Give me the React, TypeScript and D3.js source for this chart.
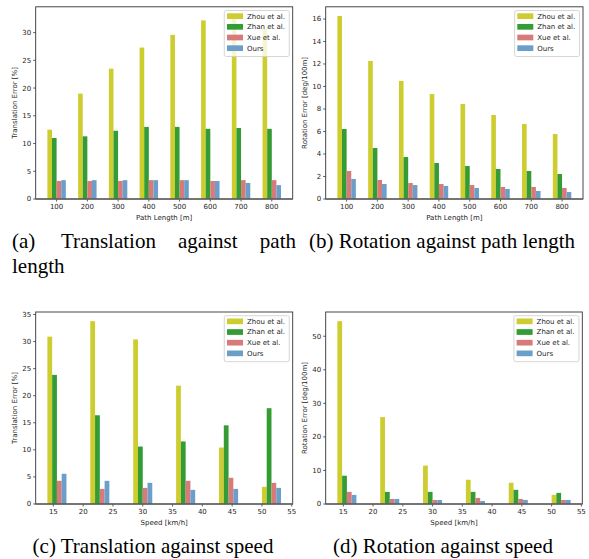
import * as d3 from 'd3'

const methods = ['Zhou et al.', 'Zhan et al.', 'Xue et al.', 'Ours']
const colors = ['#cdcd30', '#349c34', '#d87a7a', '#6b9fca']

const pathLengths = [100, 200, 300, 400, 500, 600, 700, 800]
// bar group centres on the speed axis
const speedBins = [15.6, 22.8, 30.0, 37.2, 44.4, 51.6]
const speedTicks = [15, 20, 25, 30, 35, 40, 45, 50, 55]

const transPathZhou = [12.5, 19.0, 23.5, 27.3, 29.6, 32.2, 33.0, 30.7]
const transPathZhan = [11.0, 11.3, 12.3, 13.0, 13.0, 12.65, 12.8, 12.65]
const transPathXue = [3.25, 3.25, 3.25, 3.4, 3.4, 3.25, 3.4, 3.4]
const transPathOurs = [3.4, 3.4, 3.4, 3.4, 3.4, 3.25, 2.9, 2.5]

const rotPathZhou = [16.27, 12.27, 10.49, 9.33, 8.44, 7.47, 6.67, 5.78]
const rotPathZhan = [6.22, 4.53, 3.73, 3.2, 2.93, 2.67, 2.49, 2.22]
const rotPathXue = [2.49, 1.69, 1.42, 1.33, 1.24, 1.07, 1.07, 0.98]
const rotPathOurs = [1.78, 1.33, 1.24, 1.16, 0.98, 0.89, 0.71, 0.62]

const transSpeedZhou = [30.9, 33.77, 30.4, 21.85, 10.43, 3.17]
const transSpeedZhan = [23.84, 16.39, 10.61, 11.55, 14.53, 17.69]
const transSpeedXue = [4.28, 2.79, 2.98, 4.28, 4.84, 3.91]
const transSpeedOurs = [5.59, 4.28, 3.91, 2.61, 2.79, 2.98]

const rotSpeedZhou = [54.5, 25.9, 11.45, 7.23, 6.33, 2.71]
const rotSpeedZhan = [8.43, 3.61, 3.61, 3.61, 4.22, 3.31]
const rotSpeedXue = [3.61, 1.51, 1.2, 1.81, 1.51, 1.2]
const rotSpeedOurs = [2.71, 1.51, 1.2, 0.9, 1.2, 1.2]

const FONT = '"DejaVu Sans", sans-serif'
const FS = 7

type Box = { l: number; r: number; t: number; b: number }

function Panel({ box, xDomain, positions, barW, xTicks, yTicks, series, xLabel, yLabel, yLabelX }: {
  box: Box; xDomain: [number, number]; positions: number[]; barW: number; xTicks: number[]
  yTicks: number[]; series: number[][]; xLabel: string; yLabel: string; yLabelX: number
}) {
  const x = d3.scaleLinear().domain(xDomain).range([box.l, box.r])
  const maxV = d3.max(series.flat()) || 1
  const y = d3.scaleLinear().domain([0, maxV * 1.05]).range([box.b, box.t])
  const lgW = 65, lgH = 46
  const lgX = box.r - 3.4 - lgW, lgY = box.t + 3.7

  return (
    <g>
      {series.map((vals, si) =>
        vals.map((v, i) => {
          const x0 = x(positions[i] + (si - 2) * barW)
          const x1 = x(positions[i] + (si - 1) * barW)
          return <rect key={`${si}-${i}`} x={x0} width={x1 - x0} y={y(v)} height={y(0) - y(v)} fill={colors[si]} />
        })
      )}
      {/* y ticks */}
      {yTicks.map(t => (
        <g key={'y' + t}>
          <line x1={box.l - 2.5} x2={box.l} y1={y(t)} y2={y(t)} stroke="#333" strokeWidth={0.8} />
          <text x={box.l - 4.5} y={y(t)} dy="0.35em" textAnchor="end" fontSize={FS} fontFamily={FONT} fill="#262626">{t}</text>
        </g>
      ))}
      {/* x ticks */}
      {xTicks.map(t => (
        <g key={'x' + t}>
          <line x1={x(t)} x2={x(t)} y1={box.b} y2={box.b + 2.5} stroke="#333" strokeWidth={0.8} />
          <text x={x(t)} y={box.b + 10.2} textAnchor="middle" fontSize={FS} fontFamily={FONT} fill="#262626">{t}</text>
        </g>
      ))}
      <rect x={box.l} y={box.t} width={box.r - box.l} height={box.b - box.t} fill="none" stroke="#333" strokeWidth={0.9} />
      <line x1={box.l} x2={box.r} y1={box.b} y2={box.b} stroke="#666" strokeWidth={1.6} />
      <text x={(box.l + box.r) / 2} y={box.b + 20.5} textAnchor="middle" fontSize={FS} fontFamily={FONT} fill="#262626">{xLabel}</text>
      <text transform={`translate(${yLabelX},${(box.t + box.b) / 2}) rotate(-90)`} dy="0.35em" textAnchor="middle" fontSize={FS} fontFamily={FONT} fill="#262626">{yLabel}</text>
      {/* legend */}
      <rect x={lgX} y={lgY} width={lgW} height={lgH} rx={2} fill="#fff" fillOpacity={0.8} stroke="#ccc" strokeWidth={0.8} />
      {methods.map((m, i) => (
        <g key={m}>
          <rect x={lgX + 2.7} y={lgY + 2.8 + i * 10.67} width={16} height={5.7} fill={colors[i]} />
          <text x={lgX + 22.7} y={lgY + 5.65 + i * 10.67} dy="0.35em" fontSize={FS} fontFamily={FONT} fill="#262626">{m}</text>
        </g>
      ))}
    </g>
  )
}

const SERIF = '"Liberation Serif", "Times New Roman", serif'

export default function App() {
  const pathDomain: [number, number] = [32, 868]
  const speedDomain: [number, number] = [12.04, 55.16]
  return (
    <svg width={589} height={559} style={{ position: 'absolute', left: 0, top: 0, background: '#fff' }}>
      <Panel box={{ l: 35.7, r: 292.7, t: 6.8, b: 199 }} xDomain={pathDomain} positions={pathLengths} barW={15}
        xTicks={pathLengths} yTicks={[0, 5, 10, 15, 20, 25, 30]}
        series={[transPathZhou, transPathZhan, transPathXue, transPathOurs]}
        xLabel="Path Length [m]" yLabel="Translation Error [%]" yLabelX={15} />
      <Panel box={{ l: 325.7, r: 583, t: 6.8, b: 199 }} xDomain={pathDomain} positions={pathLengths} barW={15}
        xTicks={pathLengths} yTicks={[0, 2, 4, 6, 8, 10, 12, 14, 16]}
        series={[rotPathZhou, rotPathZhan, rotPathXue, rotPathOurs]}
        xLabel="Path Length [m]" yLabel="Rotation Error [deg/100m]" yLabelX={305} />
      <Panel box={{ l: 35.7, r: 292.7, t: 312, b: 504 }} xDomain={speedDomain} positions={speedBins} barW={0.8}
        xTicks={speedTicks} yTicks={[0, 5, 10, 15, 20, 25, 30, 35]}
        series={[transSpeedZhou, transSpeedZhan, transSpeedXue, transSpeedOurs]}
        xLabel="Speed [km/h]" yLabel="Translation Error [%]" yLabelX={15} />
      <Panel box={{ l: 325.7, r: 582.3, t: 312, b: 504 }} xDomain={speedDomain} positions={speedBins} barW={0.8}
        xTicks={speedTicks} yTicks={[0, 10, 20, 30, 40, 50]}
        series={[rotSpeedZhou, rotSpeedZhan, rotSpeedXue, rotSpeedOurs]}
        xLabel="Speed [km/h]" yLabel="Rotation Error [deg/100m]" yLabelX={305} />

      <g fontFamily={SERIF} fontSize={21} fill="#000">
        <text x={12} y={248}>(a)</text>
        <text x={61} y={248}>Translation</text>
        <text x={178} y={248}>against</text>
        <text x={296} y={248} textAnchor="end">path</text>
        <text x={12} y={273}>length</text>
        <text x={442} y={248} textAnchor="middle">(b) Rotation against path length</text>
        <text x={153} y={553} textAnchor="middle">(c) Translation against speed</text>
        <text x={443} y={553} textAnchor="middle">(d) Rotation against speed</text>
      </g>
    </svg>
  )
}
